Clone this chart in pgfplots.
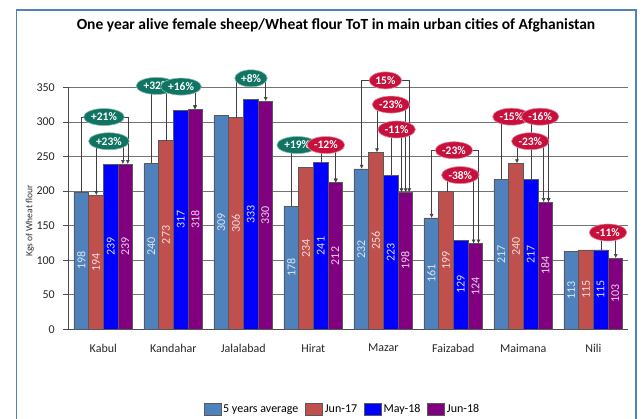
\documentclass[border=0pt]{standalone}
\usepackage{fontspec}
\setmainfont{Carlito}
\usepackage{pgfplots}
\pgfplotsset{compat=1.18}
\usetikzlibrary{arrows.meta,shapes.geometric}

\definecolor{cAvg}{HTML}{4F81BD}
\definecolor{cJ17}{HTML}{C0504D}
\definecolor{cM18}{HTML}{0000FF}
\definecolor{cJ18}{HTML}{800080}
\definecolor{grn}{HTML}{0F7462}
\definecolor{rd}{HTML}{C8103C}
\definecolor{framec}{HTML}{4F81BD}
\definecolor{labA}{HTML}{DCE6F2}
\definecolor{labB}{HTML}{F4DCDB}
\definecolor{labC}{HTML}{D6E0FA}
\definecolor{labD}{HTML}{EAD2EA}

\tikzset{
  annot/.style={draw=black!75, line width=0.6pt},
  pct/.style={ellipse, text=white, font=\fontsize{11.5}{13}\selectfont\bfseries,
    inner xsep=1.5pt, inner ysep=0pt, minimum height=17pt, line width=0.6pt},
  gpct/.style={pct, fill=grn, draw=grn!50!white},
  rpct/.style={pct, fill=rd, draw=rd!50!white},
  arr/.style={-{Latex[length=4pt,width=4pt]}},
  arrr/.style={{Latex[length=4pt,width=4pt]}-{Latex[length=4pt,width=4pt]}},
}
\newcommand{\ann}[6]{\draw[annot,#1] (axis cs:#2,#3) |- (axis cs:#5,#4) -- (axis cs:#5,#6);}

\pgfplotsset{
  sqleg/.style={legend image code/.code={\draw[##1] (0pt,-6pt) rectangle (17pt,6pt);}},
}

\begin{document}
\begin{tikzpicture}[x=1pt,y=1pt]
\useasboundingbox (0,0) rectangle (644,419);
\draw[framec, line width=1.5pt] (16.7,409) rectangle (636,-10);
\begin{axis}[
  at={(68.3pt,89.7pt)}, anchor=south west,
  scale only axis, width=560pt, height=242pt,
  xmin=-0.5, xmax=7.5, ymin=0, ymax=350,
  clip=false,
  axis lines*=left,
  axis line style={black!70, line width=0.6pt},
  ybar, bar width=0.21,
  xtick={0,1,2,3,4,5,6,7},
  xticklabels={Kabul,Kandahar,Jalalabad,Hirat,Mazar,Faizabad,Maimana,Nili},
  xtick style={draw=none},
  ytick={0,50,...,350},
  ytick style={black!70, line width=0.6pt},
  tick align=outside, major tick length=5pt,
  ymajorgrids, grid style={black!55, line width=0.6pt},
  /pgf/number format/assume math mode=true,
  ticklabel style={font=\fontsize{12}{14}\selectfont, text=black!85},
  yticklabel style={xshift=-5pt},
  xticklabel style={yshift=-6pt},
  ylabel={Kgs of Wheat flour},
  ylabel style={at={(axis description cs:-0.0684,0.4475)}, anchor=center, font=\fontsize{9.5}{11}\selectfont, text=black!80},
  title={One year alive female sheep/Wheat flour ToT in main urban cities of Afghanistan},
  title style={at={(axis description cs:0.478,1.2574)}, anchor=center, yshift=-6pt, font=\fontsize{15.5}{17}\selectfont\bfseries},
  nodes near coords,
  visualization depends on=y \as \rawy,
  every node near coord/.append style={shift={(axis direction cs:0,-\rawy/2)}, rotate=90, anchor=center, font=\fontsize{12}{13}\selectfont},
  legend columns=4,
  legend style={at={(axis description cs:0.4896,-0.329)}, anchor=center, draw=none,
    font=\fontsize{12}{14}\selectfont, /tikz/every even column/.append style={column sep=5pt}},
]
\addplot[fill=cAvg, draw=black!65, line width=0.5pt, bar shift=-0.315, sqleg,
  every node near coord/.append style={text=labA}]
  coordinates {(0,198) (1,240) (2,309) (3,178) (4,232) (5,161) (6,217) (7,113)};
\addplot[fill=cJ17, draw=black!65, line width=0.5pt, bar shift=-0.105, sqleg,
  every node near coord/.append style={text=labB}]
  coordinates {(0,194) (1,273) (2,306) (3,234) (4,256) (5,199) (6,240) (7,115)};
\addplot[fill=cM18, draw=black!65, line width=0.5pt, bar shift=0.105, sqleg,
  every node near coord/.append style={text=labC}]
  coordinates {(0,239) (1,317) (2,333) (3,241) (4,223) (5,129) (6,217) (7,115)};
\addplot[fill=cJ18, draw=black!65, line width=0.5pt, bar shift=0.315, sqleg,
  every node near coord/.append style={text=labD}]
  coordinates {(0,239) (1,318) (2,330) (3,212) (4,198) (5,124) (6,184) (7,103)};
\legend{5 years average, Jun-17, May-18, Jun-18}

% bracket lines
\ann{arr}{-0.32}{198}{307}{0.35}{239}
\ann{arrr}{-0.10}{194}{272}{0.28}{239}
\ann{arr}{0.68}{240}{352}{1.31}{318}
\ann{arr}{0.90}{273}{351}{1.31}{318}
\ann{arr}{1.90}{306}{363}{2.32}{330}
\ann{arr}{2.68}{178}{266.5}{3.32}{212}
\ann{arr}{3.11}{241}{266.5}{3.32}{212}
\ann{arrr}{3.69}{232}{360}{4.37}{198}
\ann{arrr}{3.91}{256}{325}{4.32}{198}
\ann{arr}{4.12}{223}{289}{4.26}{198}
\ann{arrr}{4.69}{161}{259}{5.36}{124}
\ann{arr}{4.91}{199}{223}{5.29}{124}
\ann{arr}{5.69}{217}{307.5}{6.36}{184}
\ann{arr}{6.11}{217}{307.5}{6.36}{184}
\ann{arrr}{5.91}{240}{272}{6.29}{184}
\ann{arr}{7.11}{115}{140}{7.32}{103}

% callouts
\node[gpct] at (axis cs:0.01,307) {+21\%};
\node[gpct] at (axis cs:0.08,272) {+23\%};
\node[gpct] at (axis cs:0.76,352) {+32\%};
\node[gpct] at (axis cs:1.11,351) {+16\%};
\node[gpct] at (axis cs:2.11,363) {+8\%};
\node[gpct] at (axis cs:2.77,266.5) {+19\%};
\node[rpct] at (axis cs:3.18,266.5) {-12\%};
\node[rpct] at (axis cs:4.03,360) {15\%};
\node[rpct] at (axis cs:4.11,325) {-23\%};
\node[rpct] at (axis cs:4.19,289) {-11\%};
\node[rpct] at (axis cs:5.01,259) {-23\%};
\node[rpct] at (axis cs:5.10,223) {-38\%};
\node[rpct] at (axis cs:5.83,307.5) {-15\%};
\node[rpct] at (axis cs:6.24,307.5) {-16\%};
\node[rpct] at (axis cs:6.10,272) {-23\%};
\node[rpct] at (axis cs:7.21,140) {-11\%};
\end{axis}
\end{tikzpicture}
\end{document}
